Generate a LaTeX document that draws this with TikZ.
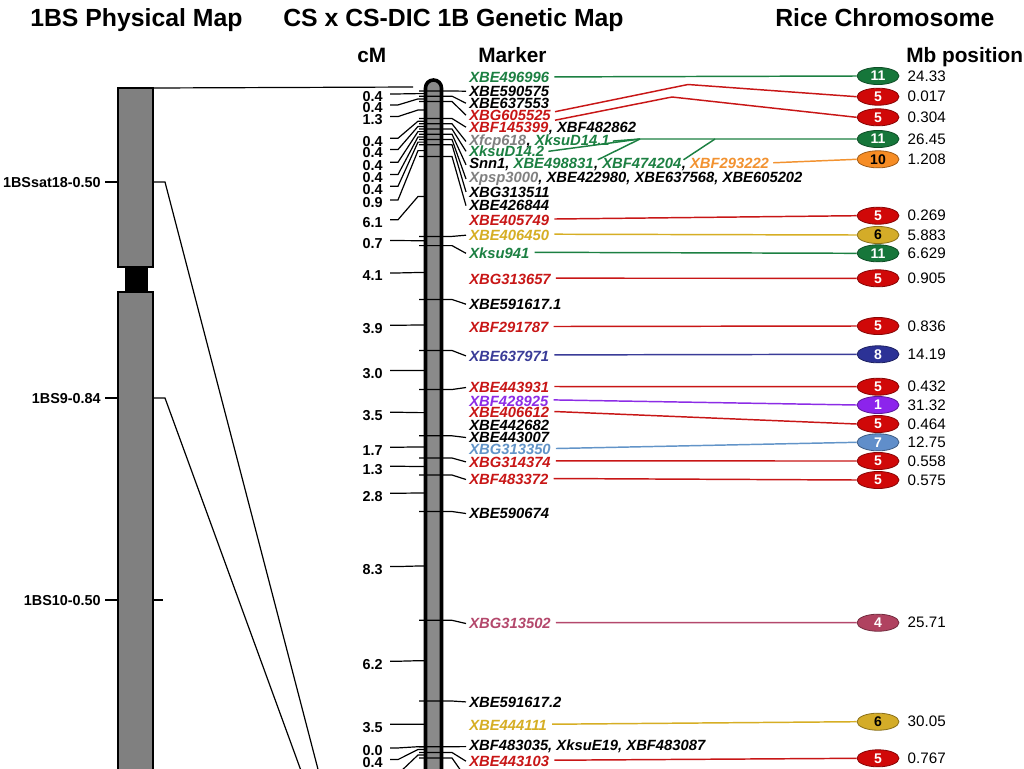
\documentclass[tikz,border=0pt]{standalone}
\usepackage{fontspec}
\setmainfont{Liberation Sans}
\usetikzlibrary{shapes.geometric,calc}
\definecolor{mgreen}{RGB}{28,128,66}
\definecolor{egreen}{RGB}{22,118,58}
\definecolor{mred}{RGB}{200,22,22}
\definecolor{ered}{RGB}{208,8,8}
\definecolor{mgold}{RGB}{214,174,36}
\definecolor{egold}{RGB}{212,172,40}
\definecolor{morange}{RGB}{242,146,48}
\definecolor{eorange}{RGB}{246,140,36}
\definecolor{mnavy}{RGB}{58,60,152}
\definecolor{enavy}{RGB}{44,50,150}
\definecolor{mpurple}{RGB}{140,44,230}
\definecolor{epurple}{RGB}{140,36,236}
\definecolor{mlblue}{RGB}{98,148,200}
\definecolor{elblue}{RGB}{96,142,202}
\definecolor{mmauve}{RGB}{180,72,108}
\definecolor{emauve}{RGB}{176,66,96}
\definecolor{mgrey}{RGB}{128,128,128}
\definecolor{chrgrey}{RGB}{128,128,128}
\definecolor{rodgrey}{RGB}{138,138,138}
\begin{document}
\begin{tikzpicture}[x=0.75pt,y=-0.75pt,
  hdr/.style={font=\fontsize{18.6}{22}\selectfont\bfseries, anchor=base west, inner sep=0pt},
  sublab/.style={font=\fontsize{15.6}{18}\selectfont\bfseries, anchor=base west, inner sep=0pt},
  mk/.style={font=\fontsize{11.1}{13}\selectfont\bfseries\itshape, anchor=base west, inner sep=0pt},
  cmlab/.style={font=\fontsize{10.8}{13}\selectfont\bfseries, anchor=base east, inner sep=0pt},
  mblab/.style={font=\fontsize{11.4}{13}\selectfont, anchor=west, inner sep=0pt},
  pl/.style={font=\fontsize{10.8}{12}\selectfont\bfseries, anchor=base east, inner sep=0pt},
  rc/.style={ellipse, fill=#1, draw=#1!65!black, line width=0.6pt, minimum width=31.5pt, minimum height=12.8pt, inner sep=0pt, text=white, font=\fontsize{10.5}{12}\selectfont\bfseries},
  tk/.style={line width=0.9pt, black},
  cline/.style={line width=1.1pt},
  chr/.style={fill=chrgrey, draw=black, line width=1.5pt}]
\useasboundingbox (0,0) rectangle (1024,768);
\fill[white] (0,0) rectangle (1024,768);
\clip (0,0) rectangle (1024,768);

% headers
\node[hdr] (h1) at (30,26) {1BS Physical Map};
\node[hdr] (h2) at (283,26) {CS x CS-DIC 1B Genetic Map};
\node[hdr] (h3) at (775,26) {Rice Chromosome};
\node[sublab] (s1) at (357,62) {cM};
\node[sublab] (s2) at (478,62) {Marker};
\node[sublab] (s3) at (906,62) {Mb position};

% physical map
\draw[chr] (118,88) rectangle (153,267);
\fill[black] (125,266) rectangle (148,293);
\draw[chr] (118,292) rectangle (153,820);
\node[pl] (p1) at (101,187) {1BSsat18-0.50};
\node[pl] (p2) at (101,403) {1BS9-0.84};
\node[pl] (p3) at (101,605) {1BS10-0.50};
\coordinate (pa) at (326,800);
\coordinate (pb) at (311.7,800);
\draw[tk] (105,182) -- (118,182);
\draw[tk] (153,182) -- (165,182) -- (pa);
\draw[tk] (105,398) -- (118,398);
\draw[tk] (153,398) -- (165,398) -- (pb);
\draw[tk] (105,600) -- (118,600);
\draw[tk] (153,600) -- (163,600);
\draw[tk] (153,88) -- (413,87);

% genetic rod
\draw[line width=2.7pt, fill=rodgrey, rounded corners=6pt] (425.5,810) -- (425.5,80) -- (441.5,80) -- (441.5,810);

% markers
\node[mk,text=mgreen] (m0) at (469,82) {XBE496996};
\node[mk] (m1) at (469,96.3) {XBE590575};
\node[mk] (m2) at (469,108.3) {XBE637553};
\node[mk,text=mred] (m3) at (469,120.3) {XBG605525};
\node[mk,text=mred] (m4) at (469,132.3) {XBF145399};
\node[mk] (m4b) at (m4.base east) {, XBF482862};
\node[mk,text=mgrey] (m5) at (469,145.3) {Xfcp618};
\node[mk] (m5b) at (m5.base east) {, \textcolor{mgreen}{XksuD14.1}};
\node[mk,text=mgreen] (m6) at (469,156.6) {XksuD14.2};
\node[mk] (m7a) at (469,168.8) {Snn1, \textcolor{mgreen}{XBE498831}};
\node[mk] (m7b) at (m7a.base east) {, \textcolor{mgreen}{XBF474204}};
\node[mk] (m7c) at (m7b.base east) {, \textcolor{morange}{XBF293222}};
\node[mk] (m8) at (469,182.6) {\textcolor{mgrey}{Xpsp3000}, XBE422980, XBE637568, XBE605202};
\node[mk] (m9) at (469,197) {XBG313511};
\node[mk] (m10) at (469,210.8) {XBE426844};
\node[mk,text=mred] (m11) at (469,225.6) {XBE405749};
\node[mk,text=mgold] (m12) at (469,240.3) {XBE406450};
\node[mk,text=mgreen] (m13) at (469,258.6) {Xksu941};
\node[mk,text=mred] (m14) at (469,284.3) {XBG313657};
\node[mk] (m15) at (469,309.3) {XBE591617.1};
\node[mk,text=mred] (m16) at (469,332.6) {XBF291787};
\node[mk,text=mnavy] (m17) at (469,361) {XBE637971};
\node[mk,text=mred] (m18) at (469,392.6) {XBE443931};
\node[mk,text=mpurple] (m19) at (469,406) {XBF428925};
\node[mk,text=mred] (m20) at (469,417.6) {XBE406612};
\node[mk] (m21) at (469,430.6) {XBE442682};
\node[mk] (m22) at (469,442.6) {XBE443007};
\node[mk,text=mlblue] (m23) at (469,454.6) {XBG313350};
\node[mk,text=mred] (m24) at (469,467) {XBG314374};
\node[mk,text=mred] (m25) at (469,484.6) {XBF483372};
\node[mk] (m26) at (469,518.6) {XBE590674};
\node[mk,text=mmauve] (m27) at (469,628.6) {XBG313502};
\node[mk] (m28) at (469,707) {XBE591617.2};
\node[mk,text=mgold] (m29) at (469,730.3) {XBE444111};
\node[mk] (m30) at (469,750.8) {XBF483035, XksuE19, XBF483087};
\node[mk,text=mred] (m31) at (469,766.3) {XBE443103};

% locus ticks
\foreach \L/\n in {91/m1, 96.2/m2, 101.5/m3, 118.5/m4, 123.8/m5, 129/m6, 134.2/m7a, 139.5/m8, 144.7/m9, 156.5/m10, 236.4/m12, 245.6/m13, 299.5/m15, 350.5/m17, 389.5/m18, 435.8/m22, 458/m24, 475/m25, 511.5/m26, 620.3/m27, 701/m28, 746.7/m30, 752.5/m31}
  \draw[tk] (419,\L) -- (452,\L) -- ([xshift=-2.25pt]\n.west);
\coordinate (lx) at (466,778);
\draw[tk] (419,758) -- (452,758) -- (lx);

% cM labels
\foreach \t/\yl/\m [count=\i] in {0.4/96.7/93.6, 0.4/107.7/98.9, 1.3/119.3/110, 0.4/141/121.2, 0.4/152.3/126.4, 0.4/165/131.6, 0.4/177.3/136.9, 0.4/189/142.1, 0.9/202.7/150.6, 6.1/222.5/196.5, 0.7/243.3/240.7, 4.1/275.7/272.5, 3.9/328/325, 3.0/373.3/370.5, 3.5/415/412.6, 1.7/450/446.9, 1.3/469/466.5, 2.8/496/493, 8.3/569.3/566, 6.2/664/660.7, 3.5/727/724.3, 0.0/750.7/746.7, 0.4/762.3/749.5}
{
  \node[cmlab] (c\i) at (383,\yl+5.2) {\t};
  \draw[tk] ($(c\i.east)+(7,-3)$) -- ++(8,0) -- (418,\m) -- (425,\m);
}
\coordinate (cx) at (390,774);
\draw[tk] (cx) -- ++(8,0) -- (418,755) -- (425,755);

% rice ellipses
\node[rc=egreen] (e1) at (878,76) {11};
\node[rc=ered] (e2) at (878,96.7) {5};
\node[rc=ered] (e3) at (878,117.3) {5};
\node[rc=egreen] (e4) at (878,139) {11};
\node[rc=eorange,text=black] (e5) at (878,159.3) {10};
\node[rc=ered] (e6) at (878,215.7) {5};
\node[rc=egold,text=black] (e7) at (878,235) {6};
\node[rc=egreen] (e8) at (878,253.3) {11};
\node[rc=ered] (e9) at (878,278.3) {5};
\node[rc=ered] (e10) at (878,326) {5};
\node[rc=enavy] (e11) at (878,354.3) {8};
\node[rc=ered] (e12) at (878,386.7) {5};
\node[rc=epurple] (e13) at (878,405) {1};
\node[rc=ered] (e14) at (878,424) {5};
\node[rc=elblue] (e15) at (878,442.3) {7};
\node[rc=ered] (e16) at (878,461) {5};
\node[rc=ered] (e17) at (878,480) {5};
\node[rc=emauve] (e18) at (878,622.7) {4};
\node[rc=egold,text=black] (e19) at (878,721.7) {6};
\node[rc=ered] (e20) at (878,758.3) {5};

\foreach \e/\v in {e1/24.33, e2/0.017, e3/0.304, e4/26.45, e5/1.208, e6/0.269, e7/5.883, e8/6.629, e9/0.905, e10/0.836, e11/14.19, e12/0.432, e13/31.32, e14/0.464, e15/12.75, e16/0.558, e17/0.575, e18/25.71, e19/30.05, e20/0.767}
  \node[mblab] (v\e) at ($(\e.east)+(8,0)$) {\v};

% connectors
\draw[cline,mgreen] ($(m0.east)+(5,0)$) -- (e1.west);
\coordinate (k1) at (688,84.5);
\coordinate (k2) at (672,97);
\draw[cline,mred] ($(m3.east)+(4,-3.5)$) -- (k1) -- (e2.west);
\draw[cline,mred] ($(m3.east)+(4,5)$) -- (k2) -- (e3.west);
\coordinate (j1) at (640,139);
\coordinate (j2) at (715,139);
\draw[cline,mgreen] ($(m5b.east)+(3,0)$) -- (j1) -- (e4.west);
\draw[cline,mgreen] ($(m6.east)+(4,0)$) -- (j1);
\draw[cline,mgreen] ($(m7a.east)+(4,-5)$) -- (j1);
\draw[cline,mgreen] ($(m7b.east)+(2,-5)$) -- (j2);
\draw[cline,morange] ($(m7c.east)+(4,-2)$) -- (e5.west);
\draw[cline,mred] ($(m11.east)+(5,-1.5)$) -- (e6.west);
\draw[cline,mgold] ($(m12.east)+(5,-1)$) -- (e7.west);
\draw[cline,mgreen] ($(m13.east)+(5,-1)$) -- (e8.west);
\draw[cline,mred] ($(m14.east)+(5,-1)$) -- (e9.west);
\draw[cline,mred] ($(m16.east)+(5,-1)$) -- (e10.west);
\draw[cline,mnavy] ($(m17.east)+(5,-1)$) -- (e11.west);
\draw[cline,mred] ($(m18.east)+(5,-1)$) -- (e12.west);
\draw[cline,mpurple] ($(m19.east)+(5,-1)$) -- (e13.west);
\draw[cline,mred] ($(m20.east)+(5,-1)$) -- (e14.west);
\draw[cline,mlblue] ($(m23.east)+(5,-1)$) -- (e15.west);
\draw[cline,mred] ($(m24.east)+(5,-1)$) -- (e16.west);
\draw[cline,mred] ($(m25.east)+(5,-1)$) -- (e17.west);
\draw[cline,mmauve] ($(m27.east)+(5,-1)$) -- (e18.west);
\draw[cline,mgold] ($(m29.east)+(5,-1)$) -- (e19.west);
\draw[cline,mred] ($(m31.east)+(5,-1)$) -- (e20.west);
\end{tikzpicture}
\end{document}
